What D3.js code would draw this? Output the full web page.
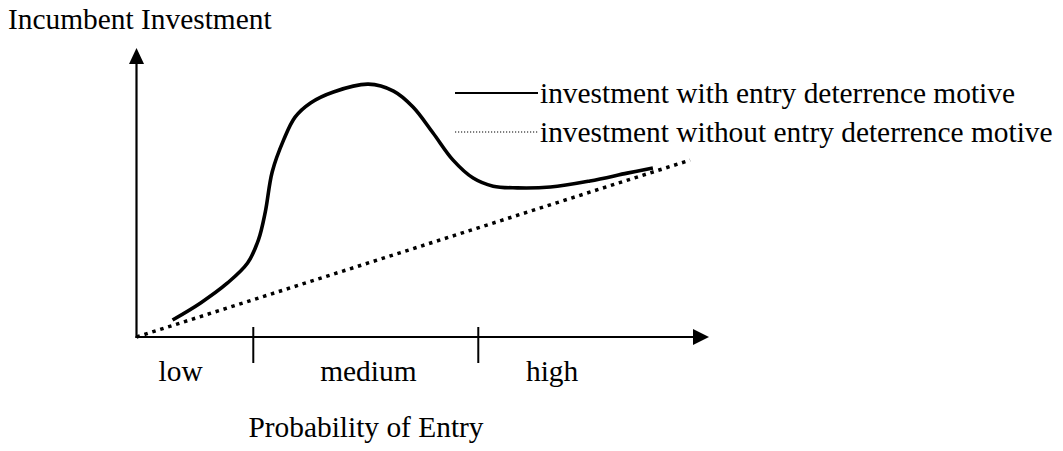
<!DOCTYPE html>
<html>
<head>
<meta charset="utf-8">
<script src="https://cdn.jsdelivr.net/npm/d3@7"></script>
<style>
  body { margin: 0; background: #fff; }
  text { font-family: "Liberation Serif", "Times New Roman", serif; font-size: 29.4px; fill: #000; }
</style>
</head>
<body>
<script>
// investment with entry deterrence motive (x = probability of entry, y = investment, both 0..1)
const withX = [0.063, 0.112, 0.159, 0.194, 0.213, 0.225, 0.237, 0.257, 0.277, 0.304, 0.344,
               0.405, 0.449, 0.483, 0.518, 0.553, 0.588, 0.623, 0.665, 0.723, 0.792, 0.857, 0.902];
const withY = [0.059, 0.118, 0.187, 0.256, 0.336, 0.433, 0.571, 0.682, 0.761, 0.810, 0.848,
               0.875, 0.851, 0.796, 0.706, 0.612, 0.550, 0.522, 0.516, 0.519, 0.540, 0.567, 0.585];

// investment without entry deterrence motive (straight line)
const withoutX = [0, 0.967];
const withoutY = [0, 0.612];

// regions on the probability axis
const boundaries = [0.204, 0.597];
const regionLabels = ["low", "medium", "high"];
const regionLabelX = [0.077, 0.405, 0.726];

const legendLabels = ["investment with entry deterrence motive", "investment without entry deterrence motive"];

const width = 1063, height = 451;

const x = d3.scaleLinear().domain([0, 1]).range([136.5, 709]);
const y = d3.scaleLinear().domain([0, 1]).range([337, 48]);

const svg = d3.select("body").append("svg")
    .attr("width", width)
    .attr("height", height);

// axes
const x0 = x(0), y0 = y(0), xEnd = x(1), yEnd = y(1);

svg.append("line")
    .attr("x1", x0 - 1).attr("y1", y0)
    .attr("x2", xEnd - 10).attr("y2", y0)
    .attr("stroke", "#000").attr("stroke-width", 2.2);

svg.append("line")
    .attr("x1", x0).attr("y1", y0 + 1)
    .attr("x2", x0).attr("y2", yEnd + 10)
    .attr("stroke", "#000").attr("stroke-width", 2.2);

// arrow heads
svg.append("path")
    .attr("d", `M${xEnd},${y0} L${xEnd - 16},${y0 - 8} L${xEnd - 16},${y0 + 8} Z`)
    .attr("fill", "#000");
svg.append("path")
    .attr("d", `M${x0},${yEnd} L${x0 - 7.5},${yEnd + 16} L${x0 + 7.5},${yEnd + 16} Z`)
    .attr("fill", "#000");

// region ticks
svg.selectAll(".tick")
    .data(boundaries)
    .join("line")
    .attr("class", "tick")
    .attr("x1", d => x(d)).attr("x2", d => x(d))
    .attr("y1", y0 - 10).attr("y2", y0 + 26)
    .attr("stroke", "#000").attr("stroke-width", 2);

svg.selectAll(".region")
    .data(regionLabels)
    .join("text")
    .attr("class", "region")
    .attr("x", (d, i) => x(regionLabelX[i]))
    .attr("y", 381)
    .attr("text-anchor", "middle")
    .text(d => d);

// axis titles
svg.append("text")
    .attr("x", 8).attr("y", 29)
    .text("Incumbent Investment");

svg.append("text")
    .attr("x", 366).attr("y", 437)
    .attr("text-anchor", "middle")
    .text("Probability of Entry");

// series
const line = d3.line()
    .x(d => x(d[0]))
    .y(d => y(d[1]))
    .curve(d3.curveCatmullRom.alpha(0.5));

svg.append("path")
    .datum(d3.zip(withoutX, withoutY))
    .attr("fill", "none")
    .attr("stroke", "#000")
    .attr("stroke-width", 3.5)
    .attr("stroke-dasharray", "3.5,4.8")
    .attr("d", d3.line().x(d => x(d[0])).y(d => y(d[1])));

svg.append("path")
    .datum(d3.zip(withX, withY))
    .attr("fill", "none")
    .attr("stroke", "#000")
    .attr("stroke-width", 3.6)
    .attr("stroke-linejoin", "round")
    .attr("d", line);

// legend
const legend = svg.append("g");
const legendY = [93, 132];

legend.selectAll("line")
    .data(legendLabels)
    .join("line")
    .attr("x1", 455).attr("x2", 538)
    .attr("y1", (d, i) => legendY[i]).attr("y2", (d, i) => legendY[i])
    .attr("stroke", "#000")
    .attr("stroke-width", (d, i) => i == 0 ? 2 : 1.2)
    .attr("stroke-dasharray", (d, i) => i == 0 ? null : "1.2,1.8");

legend.selectAll("text")
    .data(legendLabels)
    .join("text")
    .attr("x", 540)
    .attr("y", (d, i) => legendY[i] + 10)
    .text(d => d);
</script>
</body>
</html>
